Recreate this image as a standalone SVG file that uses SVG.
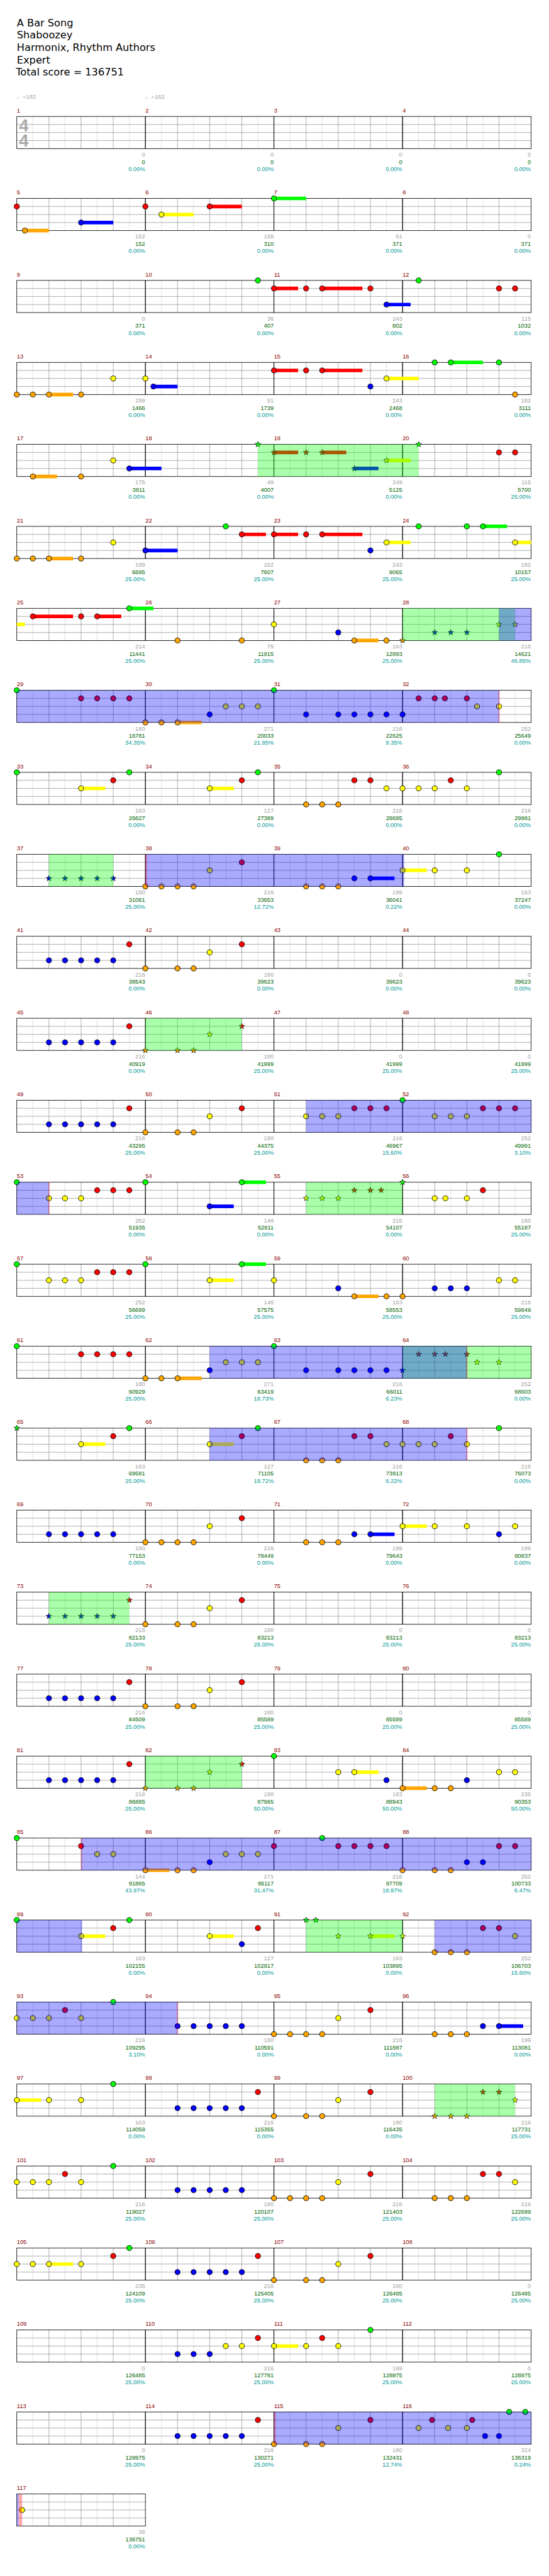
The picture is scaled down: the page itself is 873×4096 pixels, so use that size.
<svg xmlns="http://www.w3.org/2000/svg" width="873" height="4096" viewBox="0 0 873 4096">
<style>
text{font-family:"Liberation Sans","DejaVu Sans",sans-serif;font-size:11px}
.t{font-family:"DejaVu Sans",sans-serif;font-size:19px;fill:#000}
.mn{fill:#8b0000}
.a{fill:#a0a0a0;text-anchor:end}
.b{fill:#006400;text-anchor:end}
.c{fill:#009999;text-anchor:end}
.tp{fill:#a0a0a0}
.ts{font-size:32px;font-weight:bold;fill:#aaa}
.G{fill:#00ff00}.R{fill:#ff0000}.Y{fill:#ffff00}.B{fill:#0000ff}.O{fill:#ffa500}
.hG,.hR,.hY,.hB,.hO{stroke-width:6.67;fill:none}
.hG{stroke:#00ff00}.hR{stroke:#ff0000}.hY{stroke:#ffff00}.hB{stroke:#0000ff}.hO{stroke:#ffa500}
.gz{fill:#00ff00;fill-opacity:.333}.bz{fill:#0000ff;fill-opacity:.333}.pz{fill:#ff0000;fill-opacity:.333}
</style>
<defs>
<g id="st">
<path d="M30 0V60M90 0V60M150 0V60M210 0V60" stroke="#dcdcdc" fill="none"/>
<path d="M60 0V60M120 0V60M180 0V60M0 15H240M0 30H240M0 45H240" stroke="#a0a0a0" fill="none"/>
<rect width="240" height="60" fill="none" stroke="#000"/>
</g>
<circle id="g" r="4.8" class="G" stroke="#000"/>
<circle id="r" cy="15" r="4.8" class="R" stroke="#000"/>
<circle id="y" cy="30" r="4.8" class="Y" stroke="#000"/>
<circle id="b" cy="45" r="4.8" class="B" stroke="#000"/>
<circle id="o" cy="60" r="4.8" class="O" stroke="#000"/>
<path id="s" d="M0-5.5 1.35-1.86 5.23-1.7 2.19.71 3.23 4.45 0 2.3-3.23 4.45-2.19.71-5.23-1.7-1.35-1.86Z" stroke="#000" stroke-width=".8"/>
<use id="sg" href="#s" class="G"/>
<use id="sr" href="#s" y="15" class="R"/>
<use id="sy" href="#s" y="30" class="Y"/>
<use id="sb" href="#s" y="45" class="B"/>
<use id="so" href="#s" y="60" class="O"/>
</defs>
<rect width="873" height="4096" fill="#fff"/>
<g transform="scale(0.852)">
<g id="title">
<text class="t" x="31.5" y="49">A Bar Song</text>
<text class="t" x="31.5" y="72">Shaboozey</text>
<text class="t" x="31.5" y="95">Harmonix, Rhythm Authors</text>
<text class="t" x="31.5" y="118">Expert</text>
<text class="t" x="29.5" y="141">Total score = 136751</text>
</g>
<g id="staves">
<g id="m1" transform="translate(31.33,217.33)"><use href="#st"/><text class="ts" x="4.3" y="27.7">4</text><text class="ts" x="4.3" y="56.7">4</text><text class="tp" y="-33">♩=162</text><text class="mn" y="-7.5">1</text><text class="a" x="239.5" y="75">0</text><text class="b" x="239.5" y="88.7">0</text><text class="c" x="239.5" y="101.7">0.00%</text></g>
<g id="m2" transform="translate(271.33,217.33)"><use href="#st"/><text class="tp" y="-33">♩=162</text><text class="mn" y="-7.5">2</text><text class="a" x="239.5" y="75">0</text><text class="b" x="239.5" y="88.7">0</text><text class="c" x="239.5" y="101.7">0.00%</text></g>
<g id="m3" transform="translate(511.33,217.33)"><use href="#st"/><text class="mn" y="-7.5">3</text><text class="a" x="239.5" y="75">0</text><text class="b" x="239.5" y="88.7">0</text><text class="c" x="239.5" y="101.7">0.00%</text></g>
<g id="m4" transform="translate(751.33,217.33)"><use href="#st"/><text class="mn" y="-7.5">4</text><text class="a" x="239.5" y="75">0</text><text class="b" x="239.5" y="88.7">0</text><text class="c" x="239.5" y="101.7">0.00%</text></g>
<g id="m5" transform="translate(31.33,370.33)"><use href="#st"/><text class="mn" y="-7.5">5</text><text class="a" x="239.5" y="75">152</text><text class="b" x="239.5" y="88.7">152</text><text class="c" x="239.5" y="101.7">0.00%</text></g>
<g id="m6" transform="translate(271.33,370.33)"><use href="#st"/><text class="mn" y="-7.5">6</text><text class="a" x="239.5" y="75">158</text><text class="b" x="239.5" y="88.7">310</text><text class="c" x="239.5" y="101.7">0.00%</text></g>
<g id="m7" transform="translate(511.33,370.33)"><use href="#st"/><text class="mn" y="-7.5">7</text><text class="a" x="239.5" y="75">61</text><text class="b" x="239.5" y="88.7">371</text><text class="c" x="239.5" y="101.7">0.00%</text></g>
<g id="m8" transform="translate(751.33,370.33)"><use href="#st"/><text class="mn" y="-7.5">8</text><text class="a" x="239.5" y="75">0</text><text class="b" x="239.5" y="88.7">371</text><text class="c" x="239.5" y="101.7">0.00%</text></g>
<g id="m9" transform="translate(31.33,523.33)"><use href="#st"/><text class="mn" y="-7.5">9</text><text class="a" x="239.5" y="75">0</text><text class="b" x="239.5" y="88.7">371</text><text class="c" x="239.5" y="101.7">0.00%</text></g>
<g id="m10" transform="translate(271.33,523.33)"><use href="#st"/><text class="mn" y="-7.5">10</text><text class="a" x="239.5" y="75">36</text><text class="b" x="239.5" y="88.7">407</text><text class="c" x="239.5" y="101.7">0.00%</text></g>
<g id="m11" transform="translate(511.33,523.33)"><use href="#st"/><text class="mn" y="-7.5">11</text><text class="a" x="239.5" y="75">243</text><text class="b" x="239.5" y="88.7">802</text><text class="c" x="239.5" y="101.7">0.00%</text></g>
<g id="m12" transform="translate(751.33,523.33)"><use href="#st"/><text class="mn" y="-7.5">12</text><text class="a" x="239.5" y="75">115</text><text class="b" x="239.5" y="88.7">1032</text><text class="c" x="239.5" y="101.7">0.00%</text></g>
<g id="m13" transform="translate(31.33,676.33)"><use href="#st"/><text class="mn" y="-7.5">13</text><text class="a" x="239.5" y="75">199</text><text class="b" x="239.5" y="88.7">1466</text><text class="c" x="239.5" y="101.7">0.00%</text></g>
<g id="m14" transform="translate(271.33,676.33)"><use href="#st"/><text class="mn" y="-7.5">14</text><text class="a" x="239.5" y="75">91</text><text class="b" x="239.5" y="88.7">1739</text><text class="c" x="239.5" y="101.7">0.00%</text></g>
<g id="m15" transform="translate(511.33,676.33)"><use href="#st"/><text class="mn" y="-7.5">15</text><text class="a" x="239.5" y="75">243</text><text class="b" x="239.5" y="88.7">2468</text><text class="c" x="239.5" y="101.7">0.00%</text></g>
<g id="m16" transform="translate(751.33,676.33)"><use href="#st"/><text class="mn" y="-7.5">16</text><text class="a" x="239.5" y="75">182</text><text class="b" x="239.5" y="88.7">3111</text><text class="c" x="239.5" y="101.7">0.00%</text></g>
<g id="m17" transform="translate(31.33,829.33)"><use href="#st"/><text class="mn" y="-7.5">17</text><text class="a" x="239.5" y="75">175</text><text class="b" x="239.5" y="88.7">3811</text><text class="c" x="239.5" y="101.7">0.00%</text></g>
<g id="m18" transform="translate(271.33,829.33)"><use href="#st"/><text class="mn" y="-7.5">18</text><text class="a" x="239.5" y="75">49</text><text class="b" x="239.5" y="88.7">4007</text><text class="c" x="239.5" y="101.7">0.00%</text></g>
<g id="m19" transform="translate(511.33,829.33)"><use href="#st"/><text class="mn" y="-7.5">19</text><text class="a" x="239.5" y="75">249</text><text class="b" x="239.5" y="88.7">5125</text><text class="c" x="239.5" y="101.7">0.00%</text></g>
<g id="m20" transform="translate(751.33,829.33)"><use href="#st"/><text class="mn" y="-7.5">20</text><text class="a" x="239.5" y="75">115</text><text class="b" x="239.5" y="88.7">5700</text><text class="c" x="239.5" y="101.7">25.00%</text></g>
<g id="m21" transform="translate(31.33,982.33)"><use href="#st"/><text class="mn" y="-7.5">21</text><text class="a" x="239.5" y="75">199</text><text class="b" x="239.5" y="88.7">6695</text><text class="c" x="239.5" y="101.7">25.00%</text></g>
<g id="m22" transform="translate(271.33,982.33)"><use href="#st"/><text class="mn" y="-7.5">22</text><text class="a" x="239.5" y="75">152</text><text class="b" x="239.5" y="88.7">7607</text><text class="c" x="239.5" y="101.7">25.00%</text></g>
<g id="m23" transform="translate(511.33,982.33)"><use href="#st"/><text class="mn" y="-7.5">23</text><text class="a" x="239.5" y="75">243</text><text class="b" x="239.5" y="88.7">9065</text><text class="c" x="239.5" y="101.7">25.00%</text></g>
<g id="m24" transform="translate(751.33,982.33)"><use href="#st"/><text class="mn" y="-7.5">24</text><text class="a" x="239.5" y="75">182</text><text class="b" x="239.5" y="88.7">10157</text><text class="c" x="239.5" y="101.7">25.00%</text></g>
<g id="m25" transform="translate(31.33,1135.33)"><use href="#st"/><text class="mn" y="-7.5">25</text><text class="a" x="239.5" y="75">214</text><text class="b" x="239.5" y="88.7">11441</text><text class="c" x="239.5" y="101.7">25.00%</text></g>
<g id="m26" transform="translate(271.33,1135.33)"><use href="#st"/><text class="mn" y="-7.5">26</text><text class="a" x="239.5" y="75">79</text><text class="b" x="239.5" y="88.7">11915</text><text class="c" x="239.5" y="101.7">25.00%</text></g>
<g id="m27" transform="translate(511.33,1135.33)"><use href="#st"/><text class="mn" y="-7.5">27</text><text class="a" x="239.5" y="75">163</text><text class="b" x="239.5" y="88.7">12893</text><text class="c" x="239.5" y="101.7">25.00%</text></g>
<g id="m28" transform="translate(751.33,1135.33)"><use href="#st"/><text class="mn" y="-7.5">28</text><text class="a" x="239.5" y="75">216</text><text class="b" x="239.5" y="88.7">14621</text><text class="c" x="239.5" y="101.7">46.85%</text></g>
<g id="m29" transform="translate(31.33,1288.33)"><use href="#st"/><text class="mn" y="-7.5">29</text><text class="a" x="239.5" y="75">180</text><text class="b" x="239.5" y="88.7">16781</text><text class="c" x="239.5" y="101.7">34.35%</text></g>
<g id="m30" transform="translate(271.33,1288.33)"><use href="#st"/><text class="mn" y="-7.5">30</text><text class="a" x="239.5" y="75">271</text><text class="b" x="239.5" y="88.7">20033</text><text class="c" x="239.5" y="101.7">21.85%</text></g>
<g id="m31" transform="translate(511.33,1288.33)"><use href="#st"/><text class="mn" y="-7.5">31</text><text class="a" x="239.5" y="75">216</text><text class="b" x="239.5" y="88.7">22625</text><text class="c" x="239.5" y="101.7">9.35%</text></g>
<g id="m32" transform="translate(751.33,1288.33)"><use href="#st"/><text class="mn" y="-7.5">32</text><text class="a" x="239.5" y="75">252</text><text class="b" x="239.5" y="88.7">25649</text><text class="c" x="239.5" y="101.7">0.00%</text></g>
<g id="m33" transform="translate(31.33,1441.33)"><use href="#st"/><text class="mn" y="-7.5">33</text><text class="a" x="239.5" y="75">163</text><text class="b" x="239.5" y="88.7">26627</text><text class="c" x="239.5" y="101.7">0.00%</text></g>
<g id="m34" transform="translate(271.33,1441.33)"><use href="#st"/><text class="mn" y="-7.5">34</text><text class="a" x="239.5" y="75">127</text><text class="b" x="239.5" y="88.7">27389</text><text class="c" x="239.5" y="101.7">0.00%</text></g>
<g id="m35" transform="translate(511.33,1441.33)"><use href="#st"/><text class="mn" y="-7.5">35</text><text class="a" x="239.5" y="75">216</text><text class="b" x="239.5" y="88.7">28685</text><text class="c" x="239.5" y="101.7">0.00%</text></g>
<g id="m36" transform="translate(751.33,1441.33)"><use href="#st"/><text class="mn" y="-7.5">36</text><text class="a" x="239.5" y="75">216</text><text class="b" x="239.5" y="88.7">29981</text><text class="c" x="239.5" y="101.7">0.00%</text></g>
<g id="m37" transform="translate(31.33,1594.33)"><use href="#st"/><text class="mn" y="-7.5">37</text><text class="a" x="239.5" y="75">180</text><text class="b" x="239.5" y="88.7">31061</text><text class="c" x="239.5" y="101.7">25.00%</text></g>
<g id="m38" transform="translate(271.33,1594.33)"><use href="#st"/><text class="mn" y="-7.5">38</text><text class="a" x="239.5" y="75">216</text><text class="b" x="239.5" y="88.7">33653</text><text class="c" x="239.5" y="101.7">12.72%</text></g>
<g id="m39" transform="translate(511.33,1594.33)"><use href="#st"/><text class="mn" y="-7.5">39</text><text class="a" x="239.5" y="75">199</text><text class="b" x="239.5" y="88.7">36041</text><text class="c" x="239.5" y="101.7">0.22%</text></g>
<g id="m40" transform="translate(751.33,1594.33)"><use href="#st"/><text class="mn" y="-7.5">40</text><text class="a" x="239.5" y="75">163</text><text class="b" x="239.5" y="88.7">37247</text><text class="c" x="239.5" y="101.7">0.00%</text></g>
<g id="m41" transform="translate(31.33,1747.33)"><use href="#st"/><text class="mn" y="-7.5">41</text><text class="a" x="239.5" y="75">216</text><text class="b" x="239.5" y="88.7">38543</text><text class="c" x="239.5" y="101.7">0.00%</text></g>
<g id="m42" transform="translate(271.33,1747.33)"><use href="#st"/><text class="mn" y="-7.5">42</text><text class="a" x="239.5" y="75">180</text><text class="b" x="239.5" y="88.7">39623</text><text class="c" x="239.5" y="101.7">0.00%</text></g>
<g id="m43" transform="translate(511.33,1747.33)"><use href="#st"/><text class="mn" y="-7.5">43</text><text class="a" x="239.5" y="75">0</text><text class="b" x="239.5" y="88.7">39623</text><text class="c" x="239.5" y="101.7">0.00%</text></g>
<g id="m44" transform="translate(751.33,1747.33)"><use href="#st"/><text class="mn" y="-7.5">44</text><text class="a" x="239.5" y="75">0</text><text class="b" x="239.5" y="88.7">39623</text><text class="c" x="239.5" y="101.7">0.00%</text></g>
<g id="m45" transform="translate(31.33,1900.33)"><use href="#st"/><text class="mn" y="-7.5">45</text><text class="a" x="239.5" y="75">216</text><text class="b" x="239.5" y="88.7">40919</text><text class="c" x="239.5" y="101.7">0.00%</text></g>
<g id="m46" transform="translate(271.33,1900.33)"><use href="#st"/><text class="mn" y="-7.5">46</text><text class="a" x="239.5" y="75">180</text><text class="b" x="239.5" y="88.7">41999</text><text class="c" x="239.5" y="101.7">25.00%</text></g>
<g id="m47" transform="translate(511.33,1900.33)"><use href="#st"/><text class="mn" y="-7.5">47</text><text class="a" x="239.5" y="75">0</text><text class="b" x="239.5" y="88.7">41999</text><text class="c" x="239.5" y="101.7">25.00%</text></g>
<g id="m48" transform="translate(751.33,1900.33)"><use href="#st"/><text class="mn" y="-7.5">48</text><text class="a" x="239.5" y="75">0</text><text class="b" x="239.5" y="88.7">41999</text><text class="c" x="239.5" y="101.7">25.00%</text></g>
<g id="m49" transform="translate(31.33,2053.33)"><use href="#st"/><text class="mn" y="-7.5">49</text><text class="a" x="239.5" y="75">216</text><text class="b" x="239.5" y="88.7">43295</text><text class="c" x="239.5" y="101.7">25.00%</text></g>
<g id="m50" transform="translate(271.33,2053.33)"><use href="#st"/><text class="mn" y="-7.5">50</text><text class="a" x="239.5" y="75">180</text><text class="b" x="239.5" y="88.7">44375</text><text class="c" x="239.5" y="101.7">25.00%</text></g>
<g id="m51" transform="translate(511.33,2053.33)"><use href="#st"/><text class="mn" y="-7.5">51</text><text class="a" x="239.5" y="75">216</text><text class="b" x="239.5" y="88.7">46967</text><text class="c" x="239.5" y="101.7">15.60%</text></g>
<g id="m52" transform="translate(751.33,2053.33)"><use href="#st"/><text class="mn" y="-7.5">52</text><text class="a" x="239.5" y="75">252</text><text class="b" x="239.5" y="88.7">49991</text><text class="c" x="239.5" y="101.7">3.10%</text></g>
<g id="m53" transform="translate(31.33,2206.33)"><use href="#st"/><text class="mn" y="-7.5">53</text><text class="a" x="239.5" y="75">252</text><text class="b" x="239.5" y="88.7">51935</text><text class="c" x="239.5" y="101.7">0.00%</text></g>
<g id="m54" transform="translate(271.33,2206.33)"><use href="#st"/><text class="mn" y="-7.5">54</text><text class="a" x="239.5" y="75">146</text><text class="b" x="239.5" y="88.7">52811</text><text class="c" x="239.5" y="101.7">0.00%</text></g>
<g id="m55" transform="translate(511.33,2206.33)"><use href="#st"/><text class="mn" y="-7.5">55</text><text class="a" x="239.5" y="75">216</text><text class="b" x="239.5" y="88.7">54107</text><text class="c" x="239.5" y="101.7">0.00%</text></g>
<g id="m56" transform="translate(751.33,2206.33)"><use href="#st"/><text class="mn" y="-7.5">56</text><text class="a" x="239.5" y="75">180</text><text class="b" x="239.5" y="88.7">55187</text><text class="c" x="239.5" y="101.7">25.00%</text></g>
<g id="m57" transform="translate(31.33,2359.33)"><use href="#st"/><text class="mn" y="-7.5">57</text><text class="a" x="239.5" y="75">252</text><text class="b" x="239.5" y="88.7">56699</text><text class="c" x="239.5" y="101.7">25.00%</text></g>
<g id="m58" transform="translate(271.33,2359.33)"><use href="#st"/><text class="mn" y="-7.5">58</text><text class="a" x="239.5" y="75">146</text><text class="b" x="239.5" y="88.7">57575</text><text class="c" x="239.5" y="101.7">25.00%</text></g>
<g id="m59" transform="translate(511.33,2359.33)"><use href="#st"/><text class="mn" y="-7.5">59</text><text class="a" x="239.5" y="75">163</text><text class="b" x="239.5" y="88.7">58553</text><text class="c" x="239.5" y="101.7">25.00%</text></g>
<g id="m60" transform="translate(751.33,2359.33)"><use href="#st"/><text class="mn" y="-7.5">60</text><text class="a" x="239.5" y="75">216</text><text class="b" x="239.5" y="88.7">59849</text><text class="c" x="239.5" y="101.7">25.00%</text></g>
<g id="m61" transform="translate(31.33,2512.33)"><use href="#st"/><text class="mn" y="-7.5">61</text><text class="a" x="239.5" y="75">180</text><text class="b" x="239.5" y="88.7">60929</text><text class="c" x="239.5" y="101.7">25.00%</text></g>
<g id="m62" transform="translate(271.33,2512.33)"><use href="#st"/><text class="mn" y="-7.5">62</text><text class="a" x="239.5" y="75">271</text><text class="b" x="239.5" y="88.7">63419</text><text class="c" x="239.5" y="101.7">18.73%</text></g>
<g id="m63" transform="translate(511.33,2512.33)"><use href="#st"/><text class="mn" y="-7.5">63</text><text class="a" x="239.5" y="75">216</text><text class="b" x="239.5" y="88.7">66011</text><text class="c" x="239.5" y="101.7">6.23%</text></g>
<g id="m64" transform="translate(751.33,2512.33)"><use href="#st"/><text class="mn" y="-7.5">64</text><text class="a" x="239.5" y="75">252</text><text class="b" x="239.5" y="88.7">68603</text><text class="c" x="239.5" y="101.7">0.00%</text></g>
<g id="m65" transform="translate(31.33,2665.33)"><use href="#st"/><text class="mn" y="-7.5">65</text><text class="a" x="239.5" y="75">163</text><text class="b" x="239.5" y="88.7">69581</text><text class="c" x="239.5" y="101.7">25.00%</text></g>
<g id="m66" transform="translate(271.33,2665.33)"><use href="#st"/><text class="mn" y="-7.5">66</text><text class="a" x="239.5" y="75">127</text><text class="b" x="239.5" y="88.7">71105</text><text class="c" x="239.5" y="101.7">18.72%</text></g>
<g id="m67" transform="translate(511.33,2665.33)"><use href="#st"/><text class="mn" y="-7.5">67</text><text class="a" x="239.5" y="75">216</text><text class="b" x="239.5" y="88.7">73913</text><text class="c" x="239.5" y="101.7">6.22%</text></g>
<g id="m68" transform="translate(751.33,2665.33)"><use href="#st"/><text class="mn" y="-7.5">68</text><text class="a" x="239.5" y="75">216</text><text class="b" x="239.5" y="88.7">76073</text><text class="c" x="239.5" y="101.7">0.00%</text></g>
<g id="m69" transform="translate(31.33,2818.33)"><use href="#st"/><text class="mn" y="-7.5">69</text><text class="a" x="239.5" y="75">180</text><text class="b" x="239.5" y="88.7">77153</text><text class="c" x="239.5" y="101.7">0.00%</text></g>
<g id="m70" transform="translate(271.33,2818.33)"><use href="#st"/><text class="mn" y="-7.5">70</text><text class="a" x="239.5" y="75">216</text><text class="b" x="239.5" y="88.7">78449</text><text class="c" x="239.5" y="101.7">0.00%</text></g>
<g id="m71" transform="translate(511.33,2818.33)"><use href="#st"/><text class="mn" y="-7.5">71</text><text class="a" x="239.5" y="75">199</text><text class="b" x="239.5" y="88.7">79643</text><text class="c" x="239.5" y="101.7">0.00%</text></g>
<g id="m72" transform="translate(751.33,2818.33)"><use href="#st"/><text class="mn" y="-7.5">72</text><text class="a" x="239.5" y="75">199</text><text class="b" x="239.5" y="88.7">80837</text><text class="c" x="239.5" y="101.7">0.00%</text></g>
<g id="m73" transform="translate(31.33,2971.33)"><use href="#st"/><text class="mn" y="-7.5">73</text><text class="a" x="239.5" y="75">216</text><text class="b" x="239.5" y="88.7">82133</text><text class="c" x="239.5" y="101.7">25.00%</text></g>
<g id="m74" transform="translate(271.33,2971.33)"><use href="#st"/><text class="mn" y="-7.5">74</text><text class="a" x="239.5" y="75">180</text><text class="b" x="239.5" y="88.7">83213</text><text class="c" x="239.5" y="101.7">25.00%</text></g>
<g id="m75" transform="translate(511.33,2971.33)"><use href="#st"/><text class="mn" y="-7.5">75</text><text class="a" x="239.5" y="75">0</text><text class="b" x="239.5" y="88.7">83213</text><text class="c" x="239.5" y="101.7">25.00%</text></g>
<g id="m76" transform="translate(751.33,2971.33)"><use href="#st"/><text class="mn" y="-7.5">76</text><text class="a" x="239.5" y="75">0</text><text class="b" x="239.5" y="88.7">83213</text><text class="c" x="239.5" y="101.7">25.00%</text></g>
<g id="m77" transform="translate(31.33,3124.33)"><use href="#st"/><text class="mn" y="-7.5">77</text><text class="a" x="239.5" y="75">216</text><text class="b" x="239.5" y="88.7">84509</text><text class="c" x="239.5" y="101.7">25.00%</text></g>
<g id="m78" transform="translate(271.33,3124.33)"><use href="#st"/><text class="mn" y="-7.5">78</text><text class="a" x="239.5" y="75">180</text><text class="b" x="239.5" y="88.7">85589</text><text class="c" x="239.5" y="101.7">25.00%</text></g>
<g id="m79" transform="translate(511.33,3124.33)"><use href="#st"/><text class="mn" y="-7.5">79</text><text class="a" x="239.5" y="75">0</text><text class="b" x="239.5" y="88.7">85589</text><text class="c" x="239.5" y="101.7">25.00%</text></g>
<g id="m80" transform="translate(751.33,3124.33)"><use href="#st"/><text class="mn" y="-7.5">80</text><text class="a" x="239.5" y="75">0</text><text class="b" x="239.5" y="88.7">85589</text><text class="c" x="239.5" y="101.7">25.00%</text></g>
<g id="m81" transform="translate(31.33,3277.33)"><use href="#st"/><text class="mn" y="-7.5">81</text><text class="a" x="239.5" y="75">216</text><text class="b" x="239.5" y="88.7">86885</text><text class="c" x="239.5" y="101.7">25.00%</text></g>
<g id="m82" transform="translate(271.33,3277.33)"><use href="#st"/><text class="mn" y="-7.5">82</text><text class="a" x="239.5" y="75">180</text><text class="b" x="239.5" y="88.7">87965</text><text class="c" x="239.5" y="101.7">50.00%</text></g>
<g id="m83" transform="translate(511.33,3277.33)"><use href="#st"/><text class="mn" y="-7.5">83</text><text class="a" x="239.5" y="75">163</text><text class="b" x="239.5" y="88.7">88943</text><text class="c" x="239.5" y="101.7">50.00%</text></g>
<g id="m84" transform="translate(751.33,3277.33)"><use href="#st"/><text class="mn" y="-7.5">84</text><text class="a" x="239.5" y="75">235</text><text class="b" x="239.5" y="88.7">90353</text><text class="c" x="239.5" y="101.7">50.00%</text></g>
<g id="m85" transform="translate(31.33,3430.33)"><use href="#st"/><text class="mn" y="-7.5">85</text><text class="a" x="239.5" y="75">144</text><text class="b" x="239.5" y="88.7">91865</text><text class="c" x="239.5" y="101.7">43.97%</text></g>
<g id="m86" transform="translate(271.33,3430.33)"><use href="#st"/><text class="mn" y="-7.5">86</text><text class="a" x="239.5" y="75">271</text><text class="b" x="239.5" y="88.7">95117</text><text class="c" x="239.5" y="101.7">31.47%</text></g>
<g id="m87" transform="translate(511.33,3430.33)"><use href="#st"/><text class="mn" y="-7.5">87</text><text class="a" x="239.5" y="75">216</text><text class="b" x="239.5" y="88.7">97709</text><text class="c" x="239.5" y="101.7">18.97%</text></g>
<g id="m88" transform="translate(751.33,3430.33)"><use href="#st"/><text class="mn" y="-7.5">88</text><text class="a" x="239.5" y="75">252</text><text class="b" x="239.5" y="88.7">100733</text><text class="c" x="239.5" y="101.7">6.47%</text></g>
<g id="m89" transform="translate(31.33,3583.33)"><use href="#st"/><text class="mn" y="-7.5">89</text><text class="a" x="239.5" y="75">163</text><text class="b" x="239.5" y="88.7">102155</text><text class="c" x="239.5" y="101.7">0.00%</text></g>
<g id="m90" transform="translate(271.33,3583.33)"><use href="#st"/><text class="mn" y="-7.5">90</text><text class="a" x="239.5" y="75">127</text><text class="b" x="239.5" y="88.7">102917</text><text class="c" x="239.5" y="101.7">0.00%</text></g>
<g id="m91" transform="translate(511.33,3583.33)"><use href="#st"/><text class="mn" y="-7.5">91</text><text class="a" x="239.5" y="75">163</text><text class="b" x="239.5" y="88.7">103895</text><text class="c" x="239.5" y="101.7">0.00%</text></g>
<g id="m92" transform="translate(751.33,3583.33)"><use href="#st"/><text class="mn" y="-7.5">92</text><text class="a" x="239.5" y="75">252</text><text class="b" x="239.5" y="88.7">106703</text><text class="c" x="239.5" y="101.7">15.60%</text></g>
<g id="m93" transform="translate(31.33,3736.33)"><use href="#st"/><text class="mn" y="-7.5">93</text><text class="a" x="239.5" y="75">216</text><text class="b" x="239.5" y="88.7">109295</text><text class="c" x="239.5" y="101.7">3.10%</text></g>
<g id="m94" transform="translate(271.33,3736.33)"><use href="#st"/><text class="mn" y="-7.5">94</text><text class="a" x="239.5" y="75">180</text><text class="b" x="239.5" y="88.7">110591</text><text class="c" x="239.5" y="101.7">0.00%</text></g>
<g id="m95" transform="translate(511.33,3736.33)"><use href="#st"/><text class="mn" y="-7.5">95</text><text class="a" x="239.5" y="75">216</text><text class="b" x="239.5" y="88.7">111887</text><text class="c" x="239.5" y="101.7">0.00%</text></g>
<g id="m96" transform="translate(751.33,3736.33)"><use href="#st"/><text class="mn" y="-7.5">96</text><text class="a" x="239.5" y="75">199</text><text class="b" x="239.5" y="88.7">113081</text><text class="c" x="239.5" y="101.7">0.00%</text></g>
<g id="m97" transform="translate(31.33,3889.33)"><use href="#st"/><text class="mn" y="-7.5">97</text><text class="a" x="239.5" y="75">163</text><text class="b" x="239.5" y="88.7">114059</text><text class="c" x="239.5" y="101.7">0.00%</text></g>
<g id="m98" transform="translate(271.33,3889.33)"><use href="#st"/><text class="mn" y="-7.5">98</text><text class="a" x="239.5" y="75">216</text><text class="b" x="239.5" y="88.7">115355</text><text class="c" x="239.5" y="101.7">0.00%</text></g>
<g id="m99" transform="translate(511.33,3889.33)"><use href="#st"/><text class="mn" y="-7.5">99</text><text class="a" x="239.5" y="75">180</text><text class="b" x="239.5" y="88.7">116435</text><text class="c" x="239.5" y="101.7">0.00%</text></g>
<g id="m100" transform="translate(751.33,3889.33)"><use href="#st"/><text class="mn" y="-7.5">100</text><text class="a" x="239.5" y="75">216</text><text class="b" x="239.5" y="88.7">117731</text><text class="c" x="239.5" y="101.7">25.00%</text></g>
<g id="m101" transform="translate(31.33,4042.33)"><use href="#st"/><text class="mn" y="-7.5">101</text><text class="a" x="239.5" y="75">216</text><text class="b" x="239.5" y="88.7">119027</text><text class="c" x="239.5" y="101.7">25.00%</text></g>
<g id="m102" transform="translate(271.33,4042.33)"><use href="#st"/><text class="mn" y="-7.5">102</text><text class="a" x="239.5" y="75">180</text><text class="b" x="239.5" y="88.7">120107</text><text class="c" x="239.5" y="101.7">25.00%</text></g>
<g id="m103" transform="translate(511.33,4042.33)"><use href="#st"/><text class="mn" y="-7.5">103</text><text class="a" x="239.5" y="75">216</text><text class="b" x="239.5" y="88.7">121403</text><text class="c" x="239.5" y="101.7">25.00%</text></g>
<g id="m104" transform="translate(751.33,4042.33)"><use href="#st"/><text class="mn" y="-7.5">104</text><text class="a" x="239.5" y="75">216</text><text class="b" x="239.5" y="88.7">122699</text><text class="c" x="239.5" y="101.7">25.00%</text></g>
<g id="m105" transform="translate(31.33,4195.33)"><use href="#st"/><text class="mn" y="-7.5">105</text><text class="a" x="239.5" y="75">235</text><text class="b" x="239.5" y="88.7">124109</text><text class="c" x="239.5" y="101.7">25.00%</text></g>
<g id="m106" transform="translate(271.33,4195.33)"><use href="#st"/><text class="mn" y="-7.5">106</text><text class="a" x="239.5" y="75">216</text><text class="b" x="239.5" y="88.7">125405</text><text class="c" x="239.5" y="101.7">25.00%</text></g>
<g id="m107" transform="translate(511.33,4195.33)"><use href="#st"/><text class="mn" y="-7.5">107</text><text class="a" x="239.5" y="75">180</text><text class="b" x="239.5" y="88.7">126485</text><text class="c" x="239.5" y="101.7">25.00%</text></g>
<g id="m108" transform="translate(751.33,4195.33)"><use href="#st"/><text class="mn" y="-7.5">108</text><text class="a" x="239.5" y="75">0</text><text class="b" x="239.5" y="88.7">126485</text><text class="c" x="239.5" y="101.7">25.00%</text></g>
<g id="m109" transform="translate(31.33,4348.33)"><use href="#st"/><text class="mn" y="-7.5">109</text><text class="a" x="239.5" y="75">0</text><text class="b" x="239.5" y="88.7">126485</text><text class="c" x="239.5" y="101.7">25.00%</text></g>
<g id="m110" transform="translate(271.33,4348.33)"><use href="#st"/><text class="mn" y="-7.5">110</text><text class="a" x="239.5" y="75">216</text><text class="b" x="239.5" y="88.7">127781</text><text class="c" x="239.5" y="101.7">25.00%</text></g>
<g id="m111" transform="translate(511.33,4348.33)"><use href="#st"/><text class="mn" y="-7.5">111</text><text class="a" x="239.5" y="75">199</text><text class="b" x="239.5" y="88.7">128975</text><text class="c" x="239.5" y="101.7">25.00%</text></g>
<g id="m112" transform="translate(751.33,4348.33)"><use href="#st"/><text class="mn" y="-7.5">112</text><text class="a" x="239.5" y="75">0</text><text class="b" x="239.5" y="88.7">128975</text><text class="c" x="239.5" y="101.7">25.00%</text></g>
<g id="m113" transform="translate(31.33,4501.33)"><use href="#st"/><text class="mn" y="-7.5">113</text><text class="a" x="239.5" y="75">0</text><text class="b" x="239.5" y="88.7">128975</text><text class="c" x="239.5" y="101.7">25.00%</text></g>
<g id="m114" transform="translate(271.33,4501.33)"><use href="#st"/><text class="mn" y="-7.5">114</text><text class="a" x="239.5" y="75">216</text><text class="b" x="239.5" y="88.7">130271</text><text class="c" x="239.5" y="101.7">25.00%</text></g>
<g id="m115" transform="translate(511.33,4501.33)"><use href="#st"/><text class="mn" y="-7.5">115</text><text class="a" x="239.5" y="75">180</text><text class="b" x="239.5" y="88.7">132431</text><text class="c" x="239.5" y="101.7">12.74%</text></g>
<g id="m116" transform="translate(751.33,4501.33)"><use href="#st"/><text class="mn" y="-7.5">116</text><text class="a" x="239.5" y="75">324</text><text class="b" x="239.5" y="88.7">136319</text><text class="c" x="239.5" y="101.7">0.24%</text></g>
<g id="m117" transform="translate(31.33,4654.33)"><use href="#st"/><text class="mn" y="-7.5">117</text><text class="a" x="239.5" y="75">36</text><text class="b" x="239.5" y="88.7">136751</text><text class="c" x="239.5" y="101.7">0.00%</text></g>
</g>
<g id="notes">
<g id="n5" transform="translate(31.33,370.33)"><path class="hO" d="M15 60H60"/><path class="hB" d="M120 45H180"/><use href="#r"/><use href="#o" x="15"/><use href="#b" x="120"/></g>
<g id="n6" transform="translate(271.33,370.33)"><path class="hY" d="M30 30H90"/><path class="hR" d="M120 15H180"/><use href="#r"/><use href="#y" x="30"/><use href="#r" x="120"/></g>
<g id="n7" transform="translate(511.33,370.33)"><path class="hG" d="M0 0H60"/><use href="#g"/></g>
<g id="n10" transform="translate(271.33,523.33)"><use href="#g" x="210"/></g>
<g id="n11" transform="translate(511.33,523.33)"><path class="hR" d="M0 15H45M90 15H165"/><path class="hB" d="M210 45H255"/><use href="#r"/><use href="#r" x="60"/><use href="#r" x="90"/><use href="#r" x="180"/><use href="#b" x="210"/></g>
<g id="n12" transform="translate(751.33,523.33)"><use href="#g" x="30"/><use href="#r" x="180"/><use href="#r" x="210"/></g>
<g id="n13" transform="translate(31.33,676.33)"><path class="hO" d="M60 60H105"/><use href="#o"/><use href="#o" x="30"/><use href="#o" x="60"/><use href="#o" x="120"/><use href="#y" x="180"/></g>
<g id="n14" transform="translate(271.33,676.33)"><path class="hB" d="M15 45H60"/><use href="#y"/><use href="#b" x="15"/></g>
<g id="n15" transform="translate(511.33,676.33)"><path class="hR" d="M0 15H45M90 15H165"/><path class="hY" d="M210 30H270"/><use href="#r"/><use href="#r" x="60"/><use href="#r" x="90"/><use href="#b" x="180"/><use href="#y" x="210"/></g>
<g id="n16" transform="translate(751.33,676.33)"><path class="hG" d="M90 0H150"/><use href="#g" x="60"/><use href="#g" x="90"/><use href="#g" x="180"/><use href="#o" x="210"/></g>
<g id="n17" transform="translate(31.33,829.33)"><path class="hO" d="M30 60H75"/><path class="hB" d="M210 45H270"/><use href="#o" x="30"/><use href="#o" x="120"/><use href="#y" x="180"/><use href="#b" x="210"/></g>
<g id="n18" transform="translate(271.33,829.33)"><use href="#sg" x="210"/></g>
<g id="n19" transform="translate(511.33,829.33)"><path class="hR" d="M0 15H45M90 15H135"/><path class="hB" d="M150 45H195"/><path class="hY" d="M210 30H255"/><use href="#sr"/><use href="#sr" x="60"/><use href="#sr" x="90"/><use href="#sb" x="150"/><use href="#sy" x="210"/></g>
<g id="n20" transform="translate(751.33,829.33)"><use href="#sg" x="30"/><use href="#r" x="180"/><use href="#r" x="210"/></g>
<g id="n21" transform="translate(31.33,982.33)"><path class="hO" d="M60 60H105"/><use href="#o"/><use href="#o" x="30"/><use href="#o" x="60"/><use href="#o" x="120"/><use href="#y" x="180"/></g>
<g id="n22" transform="translate(271.33,982.33)"><path class="hB" d="M0 45H60"/><path class="hR" d="M180 15H225"/><use href="#b"/><use href="#g" x="150"/><use href="#r" x="180"/></g>
<g id="n23" transform="translate(511.33,982.33)"><path class="hR" d="M0 15H45M90 15H165"/><path class="hY" d="M210 30H255"/><use href="#r"/><use href="#r" x="60"/><use href="#r" x="90"/><use href="#b" x="180"/><use href="#y" x="210"/></g>
<g id="n24" transform="translate(751.33,982.33)"><path class="hG" d="M150 0H195"/><path class="hY" d="M210 30H240"/><use href="#g" x="30"/><use href="#g" x="120"/><use href="#g" x="150"/><use href="#y" x="210"/></g>
<g id="n25" transform="translate(31.33,1135.33)"><path class="hY" d="M0 30H15"/><path class="hR" d="M30 15H105M150 15H195"/><path class="hG" d="M210 0H255"/><use href="#r" x="30"/><use href="#r" x="120"/><use href="#r" x="150"/><use href="#g" x="210"/></g>
<g id="n26" transform="translate(271.33,1135.33)"><use href="#o" x="60"/><use href="#o" x="180"/></g>
<g id="n27" transform="translate(511.33,1135.33)"><path class="hO" d="M150 60H195"/><use href="#y"/><use href="#b" x="120"/><use href="#o" x="150"/><use href="#o" x="210"/></g>
<g id="n28" transform="translate(751.33,1135.33)"><use href="#so"/><use href="#sb" x="60"/><use href="#sb" x="90"/><use href="#sb" x="120"/><use href="#sy" x="180"/><use href="#sy" x="210"/></g>
<g id="n29" transform="translate(31.33,1288.33)"><use href="#g"/><use href="#r" x="120"/><use href="#r" x="150"/><use href="#r" x="180"/><use href="#r" x="210"/></g>
<g id="n30" transform="translate(271.33,1288.33)"><path class="hO" d="M60 60H105"/><use href="#o"/><use href="#o" x="30"/><use href="#o" x="60"/><use href="#b" x="120"/><use href="#y" x="150"/><use href="#y" x="180"/><use href="#y" x="210"/></g>
<g id="n31" transform="translate(511.33,1288.33)"><use href="#g"/><use href="#b" x="60"/><use href="#b" x="120"/><use href="#b" x="150"/><use href="#b" x="180"/><use href="#b" x="210"/></g>
<g id="n32" transform="translate(751.33,1288.33)"><use href="#b"/><use href="#r" x="30"/><use href="#r" x="60"/><use href="#r" x="79"/><use href="#r" x="120"/><use href="#y" x="139"/><use href="#y" x="180"/></g>
<g id="n33" transform="translate(31.33,1441.33)"><path class="hY" d="M120 30H165"/><use href="#g"/><use href="#y" x="120"/><use href="#r" x="180"/><use href="#g" x="210"/></g>
<g id="n34" transform="translate(271.33,1441.33)"><path class="hY" d="M120 30H165"/><use href="#y" x="120"/><use href="#r" x="180"/><use href="#g" x="210"/></g>
<g id="n35" transform="translate(511.33,1441.33)"><use href="#o" x="60"/><use href="#o" x="90"/><use href="#o" x="120"/><use href="#r" x="150"/><use href="#r" x="180"/><use href="#y" x="210"/></g>
<g id="n36" transform="translate(751.33,1441.33)"><use href="#y"/><use href="#y" x="30"/><use href="#y" x="60"/><use href="#r" x="90"/><use href="#y" x="120"/><use href="#g" x="180"/></g>
<g id="n37" transform="translate(31.33,1594.33)"><use href="#sb" x="60"/><use href="#sb" x="90"/><use href="#sb" x="120"/><use href="#sb" x="150"/><use href="#sb" x="180"/></g>
<g id="n38" transform="translate(271.33,1594.33)"><use href="#o"/><use href="#o" x="30"/><use href="#o" x="60"/><use href="#o" x="90"/><use href="#y" x="120"/><use href="#r" x="180"/></g>
<g id="n39" transform="translate(511.33,1594.33)"><path class="hB" d="M180 45H225"/><use href="#o" x="60"/><use href="#o" x="90"/><use href="#o" x="120"/><use href="#b" x="150"/><use href="#b" x="180"/></g>
<g id="n40" transform="translate(751.33,1594.33)"><path class="hY" d="M0 30H45"/><use href="#y"/><use href="#y" x="60"/><use href="#y" x="120"/><use href="#g" x="180"/></g>
<g id="n41" transform="translate(31.33,1747.33)"><use href="#b" x="60"/><use href="#b" x="90"/><use href="#b" x="120"/><use href="#b" x="150"/><use href="#b" x="180"/><use href="#r" x="210"/></g>
<g id="n42" transform="translate(271.33,1747.33)"><use href="#o"/><use href="#o" x="60"/><use href="#o" x="90"/><use href="#y" x="120"/><use href="#r" x="180"/></g>
<g id="n45" transform="translate(31.33,1900.33)"><use href="#b" x="60"/><use href="#b" x="90"/><use href="#b" x="120"/><use href="#b" x="150"/><use href="#b" x="180"/><use href="#r" x="210"/></g>
<g id="n46" transform="translate(271.33,1900.33)"><use href="#so"/><use href="#so" x="60"/><use href="#so" x="90"/><use href="#sy" x="120"/><use href="#sr" x="180"/></g>
<g id="n49" transform="translate(31.33,2053.33)"><use href="#b" x="60"/><use href="#b" x="90"/><use href="#b" x="120"/><use href="#b" x="150"/><use href="#b" x="180"/><use href="#r" x="210"/></g>
<g id="n50" transform="translate(271.33,2053.33)"><use href="#o"/><use href="#o" x="60"/><use href="#o" x="90"/><use href="#y" x="120"/><use href="#r" x="180"/></g>
<g id="n51" transform="translate(511.33,2053.33)"><use href="#y" x="60"/><use href="#y" x="90"/><use href="#y" x="120"/><use href="#r" x="150"/><use href="#r" x="180"/><use href="#r" x="210"/></g>
<g id="n52" transform="translate(751.33,2053.33)"><use href="#g"/><use href="#y" x="60"/><use href="#y" x="90"/><use href="#y" x="120"/><use href="#r" x="150"/><use href="#r" x="180"/><use href="#r" x="210"/></g>
<g id="n53" transform="translate(31.33,2206.33)"><use href="#g"/><use href="#y" x="60"/><use href="#y" x="90"/><use href="#y" x="120"/><use href="#r" x="150"/><use href="#r" x="180"/><use href="#r" x="210"/></g>
<g id="n54" transform="translate(271.33,2206.33)"><path class="hB" d="M120 45H165"/><path class="hG" d="M180 0H225"/><use href="#g"/><use href="#b" x="120"/><use href="#g" x="180"/></g>
<g id="n55" transform="translate(511.33,2206.33)"><use href="#sy" x="60"/><use href="#sy" x="90"/><use href="#sy" x="120"/><use href="#sr" x="150"/><use href="#sr" x="180"/><use href="#sr" x="200"/></g>
<g id="n56" transform="translate(751.33,2206.33)"><use href="#sg"/><use href="#y" x="60"/><use href="#y" x="80"/><use href="#y" x="120"/><use href="#r" x="150"/></g>
<g id="n57" transform="translate(31.33,2359.33)"><use href="#g"/><use href="#y" x="60"/><use href="#y" x="90"/><use href="#y" x="120"/><use href="#r" x="150"/><use href="#r" x="180"/><use href="#r" x="210"/></g>
<g id="n58" transform="translate(271.33,2359.33)"><path class="hY" d="M120 30H165"/><path class="hG" d="M180 0H225"/><use href="#g"/><use href="#y" x="120"/><use href="#g" x="180"/></g>
<g id="n59" transform="translate(511.33,2359.33)"><path class="hO" d="M150 60H195"/><use href="#y"/><use href="#b" x="120"/><use href="#o" x="150"/><use href="#o" x="210"/></g>
<g id="n60" transform="translate(751.33,2359.33)"><use href="#o"/><use href="#b" x="60"/><use href="#b" x="90"/><use href="#b" x="120"/><use href="#y" x="180"/><use href="#y" x="210"/></g>
<g id="n61" transform="translate(31.33,2512.33)"><use href="#g"/><use href="#r" x="120"/><use href="#r" x="150"/><use href="#r" x="180"/><use href="#r" x="210"/></g>
<g id="n62" transform="translate(271.33,2512.33)"><path class="hO" d="M60 60H105"/><use href="#o"/><use href="#o" x="30"/><use href="#o" x="60"/><use href="#b" x="120"/><use href="#y" x="150"/><use href="#y" x="180"/><use href="#y" x="210"/></g>
<g id="n63" transform="translate(511.33,2512.33)"><use href="#g"/><use href="#b" x="60"/><use href="#b" x="120"/><use href="#b" x="150"/><use href="#b" x="180"/><use href="#b" x="210"/></g>
<g id="n64" transform="translate(751.33,2512.33)"><use href="#sb"/><use href="#sr" x="30"/><use href="#sr" x="60"/><use href="#sr" x="80"/><use href="#sr" x="120"/><use href="#sy" x="139"/><use href="#sy" x="180"/></g>
<g id="n65" transform="translate(31.33,2665.33)"><path class="hY" d="M120 30H165"/><use href="#sg"/><use href="#y" x="120"/><use href="#r" x="180"/><use href="#g" x="210"/></g>
<g id="n66" transform="translate(271.33,2665.33)"><path class="hY" d="M120 30H165"/><use href="#y" x="120"/><use href="#r" x="180"/><use href="#g" x="210"/></g>
<g id="n67" transform="translate(511.33,2665.33)"><use href="#o" x="60"/><use href="#o" x="90"/><use href="#o" x="120"/><use href="#r" x="150"/><use href="#r" x="180"/><use href="#y" x="210"/></g>
<g id="n68" transform="translate(751.33,2665.33)"><use href="#y"/><use href="#y" x="30"/><use href="#y" x="60"/><use href="#r" x="90"/><use href="#y" x="120"/><use href="#g" x="180"/></g>
<g id="n69" transform="translate(31.33,2818.33)"><use href="#b" x="60"/><use href="#b" x="90"/><use href="#b" x="120"/><use href="#b" x="150"/><use href="#b" x="180"/></g>
<g id="n70" transform="translate(271.33,2818.33)"><use href="#o"/><use href="#o" x="30"/><use href="#o" x="60"/><use href="#o" x="90"/><use href="#y" x="120"/><use href="#r" x="180"/></g>
<g id="n71" transform="translate(511.33,2818.33)"><path class="hB" d="M180 45H225"/><use href="#o" x="60"/><use href="#o" x="90"/><use href="#o" x="120"/><use href="#b" x="150"/><use href="#b" x="180"/></g>
<g id="n72" transform="translate(751.33,2818.33)"><path class="hY" d="M0 30H45"/><use href="#y"/><use href="#y" x="60"/><use href="#y" x="120"/><use href="#b" x="180"/><use href="#y" x="210"/></g>
<g id="n73" transform="translate(31.33,2971.33)"><use href="#sb" x="60"/><use href="#sb" x="90"/><use href="#sb" x="120"/><use href="#sb" x="150"/><use href="#sb" x="180"/><use href="#sr" x="210"/></g>
<g id="n74" transform="translate(271.33,2971.33)"><use href="#o"/><use href="#o" x="60"/><use href="#o" x="90"/><use href="#y" x="120"/><use href="#r" x="180"/></g>
<g id="n77" transform="translate(31.33,3124.33)"><use href="#b" x="60"/><use href="#b" x="90"/><use href="#b" x="120"/><use href="#b" x="150"/><use href="#b" x="180"/><use href="#r" x="210"/></g>
<g id="n78" transform="translate(271.33,3124.33)"><use href="#o"/><use href="#o" x="60"/><use href="#o" x="90"/><use href="#y" x="120"/><use href="#r" x="180"/></g>
<g id="n81" transform="translate(31.33,3277.33)"><use href="#b" x="60"/><use href="#b" x="90"/><use href="#b" x="120"/><use href="#b" x="150"/><use href="#b" x="180"/><use href="#r" x="210"/></g>
<g id="n82" transform="translate(271.33,3277.33)"><use href="#so"/><use href="#so" x="60"/><use href="#so" x="90"/><use href="#sy" x="120"/><use href="#sr" x="180"/></g>
<g id="n83" transform="translate(511.33,3277.33)"><path class="hY" d="M150 30H195"/><use href="#g"/><use href="#y" x="120"/><use href="#y" x="150"/><use href="#b" x="210"/></g>
<g id="n84" transform="translate(751.33,3277.33)"><path class="hO" d="M0 60H45"/><use href="#o"/><use href="#o" x="60"/><use href="#o" x="90"/><use href="#b" x="120"/><use href="#y" x="180"/><use href="#y" x="210"/></g>
<g id="n85" transform="translate(31.33,3430.33)"><use href="#g"/><use href="#r" x="120"/><use href="#y" x="150"/><use href="#y" x="180"/></g>
<g id="n86" transform="translate(271.33,3430.33)"><path class="hO" d="M0 60H45"/><use href="#o"/><use href="#o" x="60"/><use href="#o" x="90"/><use href="#b" x="120"/><use href="#y" x="150"/><use href="#y" x="180"/><use href="#y" x="210"/></g>
<g id="n87" transform="translate(511.33,3430.33)"><use href="#r"/><use href="#g" x="90"/><use href="#r" x="120"/><use href="#r" x="150"/><use href="#r" x="180"/><use href="#r" x="210"/></g>
<g id="n88" transform="translate(751.33,3430.33)"><use href="#o"/><use href="#o" x="60"/><use href="#o" x="90"/><use href="#b" x="120"/><use href="#b" x="150"/><use href="#r" x="180"/><use href="#r" x="210"/></g>
<g id="n89" transform="translate(31.33,3583.33)"><path class="hY" d="M120 30H165"/><use href="#g"/><use href="#y" x="120"/><use href="#r" x="180"/><use href="#g" x="210"/></g>
<g id="n90" transform="translate(271.33,3583.33)"><path class="hY" d="M120 30H165"/><use href="#y" x="120"/><use href="#b" x="180"/><use href="#r" x="210"/></g>
<g id="n91" transform="translate(511.33,3583.33)"><path class="hY" d="M180 30H225"/><use href="#sg" x="60"/><use href="#sg" x="78"/><use href="#sy" x="120"/><use href="#sy" x="180"/></g>
<g id="n92" transform="translate(751.33,3583.33)"><use href="#sy"/><use href="#o" x="60"/><use href="#o" x="90"/><use href="#o" x="120"/><use href="#r" x="150"/><use href="#r" x="180"/><use href="#y" x="210"/></g>
<g id="n93" transform="translate(31.33,3736.33)"><use href="#y"/><use href="#y" x="30"/><use href="#y" x="60"/><use href="#r" x="90"/><use href="#y" x="120"/><use href="#g" x="180"/></g>
<g id="n94" transform="translate(271.33,3736.33)"><use href="#b" x="60"/><use href="#b" x="90"/><use href="#b" x="120"/><use href="#b" x="150"/><use href="#b" x="180"/></g>
<g id="n95" transform="translate(511.33,3736.33)"><use href="#o"/><use href="#o" x="30"/><use href="#o" x="60"/><use href="#o" x="90"/><use href="#y" x="120"/><use href="#r" x="180"/></g>
<g id="n96" transform="translate(751.33,3736.33)"><path class="hB" d="M180 45H225"/><use href="#o" x="60"/><use href="#o" x="90"/><use href="#o" x="120"/><use href="#b" x="150"/><use href="#b" x="180"/></g>
<g id="n97" transform="translate(31.33,3889.33)"><path class="hY" d="M0 30H45"/><use href="#y"/><use href="#y" x="60"/><use href="#y" x="120"/><use href="#g" x="180"/></g>
<g id="n98" transform="translate(271.33,3889.33)"><use href="#b" x="60"/><use href="#b" x="90"/><use href="#b" x="120"/><use href="#b" x="150"/><use href="#b" x="180"/><use href="#r" x="210"/></g>
<g id="n99" transform="translate(511.33,3889.33)"><use href="#o"/><use href="#o" x="60"/><use href="#o" x="90"/><use href="#y" x="120"/><use href="#r" x="180"/></g>
<g id="n100" transform="translate(751.33,3889.33)"><use href="#so" x="60"/><use href="#so" x="90"/><use href="#so" x="120"/><use href="#sr" x="150"/><use href="#sr" x="180"/><use href="#sy" x="210"/></g>
<g id="n101" transform="translate(31.33,4042.33)"><use href="#y"/><use href="#y" x="30"/><use href="#y" x="60"/><use href="#r" x="90"/><use href="#y" x="120"/><use href="#g" x="180"/></g>
<g id="n102" transform="translate(271.33,4042.33)"><use href="#b" x="60"/><use href="#b" x="90"/><use href="#b" x="120"/><use href="#b" x="150"/><use href="#b" x="180"/></g>
<g id="n103" transform="translate(511.33,4042.33)"><use href="#o"/><use href="#o" x="30"/><use href="#o" x="60"/><use href="#o" x="90"/><use href="#y" x="120"/><use href="#r" x="180"/></g>
<g id="n104" transform="translate(751.33,4042.33)"><use href="#o" x="60"/><use href="#o" x="90"/><use href="#o" x="120"/><use href="#r" x="150"/><use href="#r" x="180"/><use href="#y" x="210"/></g>
<g id="n105" transform="translate(31.33,4195.33)"><path class="hY" d="M60 30H105"/><use href="#y"/><use href="#y" x="30"/><use href="#y" x="60"/><use href="#y" x="120"/><use href="#r" x="180"/><use href="#g" x="210"/></g>
<g id="n106" transform="translate(271.33,4195.33)"><use href="#b" x="60"/><use href="#b" x="90"/><use href="#b" x="120"/><use href="#b" x="150"/><use href="#b" x="180"/><use href="#r" x="210"/></g>
<g id="n107" transform="translate(511.33,4195.33)"><use href="#o"/><use href="#o" x="60"/><use href="#o" x="90"/><use href="#y" x="120"/><use href="#r" x="180"/></g>
<g id="n110" transform="translate(271.33,4348.33)"><use href="#b" x="60"/><use href="#b" x="90"/><use href="#b" x="120"/><use href="#y" x="150"/><use href="#y" x="180"/><use href="#r" x="210"/></g>
<g id="n111" transform="translate(511.33,4348.33)"><path class="hY" d="M0 30H45"/><use href="#y"/><use href="#y" x="60"/><use href="#r" x="90"/><use href="#y" x="120"/><use href="#g" x="180"/></g>
<g id="n114" transform="translate(271.33,4501.33)"><use href="#b" x="60"/><use href="#b" x="90"/><use href="#b" x="120"/><use href="#b" x="150"/><use href="#b" x="180"/><use href="#r" x="210"/></g>
<g id="n115" transform="translate(511.33,4501.33)"><use href="#o"/><use href="#o" x="60"/><use href="#o" x="90"/><use href="#y" x="120"/><use href="#r" x="180"/></g>
<g id="n116" transform="translate(751.33,4501.33)"><use href="#y" x="30"/><use href="#r" x="55"/><use href="#y" x="85"/><use href="#y" x="120"/><use href="#r" x="130"/><use href="#b" x="154"/><use href="#b" x="180"/><use href="#g" x="199"/><use href="#g" x="229"/></g>
<g id="n117" transform="translate(31.33,4654.33)"><use href="#y" x="10"/></g>
</g>
<g id="overlays">
<g transform="translate(31.33,829.33)"><rect class="gz" x="450" width="300" height="60"/></g>
<g transform="translate(31.33,1135.33)"><rect class="gz" x="720" width="210" height="60"/><rect class="bz" x="900" width="60" height="60"/></g>
<g transform="translate(31.33,1288.33)"><rect class="bz" width="900" height="60"/><rect class="pz" x="899" width="2" height="60"/></g>
<g transform="translate(31.33,1594.33)"><rect class="gz" x="60" width="120" height="60"/><rect class="bz" x="240" width="483" height="60"/><rect class="pz" x="240" width="3" height="60"/></g>
<g transform="translate(31.33,1900.33)"><rect class="gz" x="240" width="180" height="60"/></g>
<g transform="translate(31.33,2053.33)"><rect class="bz" x="540" width="420" height="60"/></g>
<g transform="translate(31.33,2206.33)"><rect class="bz" width="60" height="60"/><rect class="pz" x="59" width="2" height="60"/><rect class="gz" x="540" width="180" height="60"/></g>
<g transform="translate(31.33,2512.33)"><rect class="gz" x="720" width="240" height="60"/><rect class="bz" x="360" width="480" height="60"/><rect class="pz" x="839" width="2" height="60"/></g>
<g transform="translate(31.33,2665.33)"><rect class="bz" x="360" width="480" height="60"/><rect class="pz" x="839" width="2" height="60"/></g>
<g transform="translate(31.33,2971.33)"><rect class="gz" x="60" width="150" height="60"/></g>
<g transform="translate(31.33,3277.33)"><rect class="gz" x="240" width="180" height="60"/></g>
<g transform="translate(31.33,3430.33)"><rect class="bz" x="120" width="840" height="60"/><rect class="pz" x="120" width="2" height="60"/></g>
<g transform="translate(31.33,3583.33)"><rect class="bz" width="122" height="60"/><rect class="gz" x="540" width="180" height="60"/><rect class="bz" x="780" width="180" height="60"/></g>
<g transform="translate(31.33,3736.33)"><rect class="bz" width="300" height="60"/><rect class="pz" x="299" width="2" height="60"/></g>
<g transform="translate(31.33,3889.33)"><rect class="gz" x="780" width="150" height="60"/></g>
<g transform="translate(31.33,4501.33)"><rect class="bz" x="480" width="480" height="60"/><rect class="pz" x="480" width="3" height="60"/></g>
<g transform="translate(31.33,4654.33)"><rect class="bz" width="3.7" height="60"/><rect class="pz" x="3.7" width="6.3" height="60"/></g>
</g>
</g>
</svg>
